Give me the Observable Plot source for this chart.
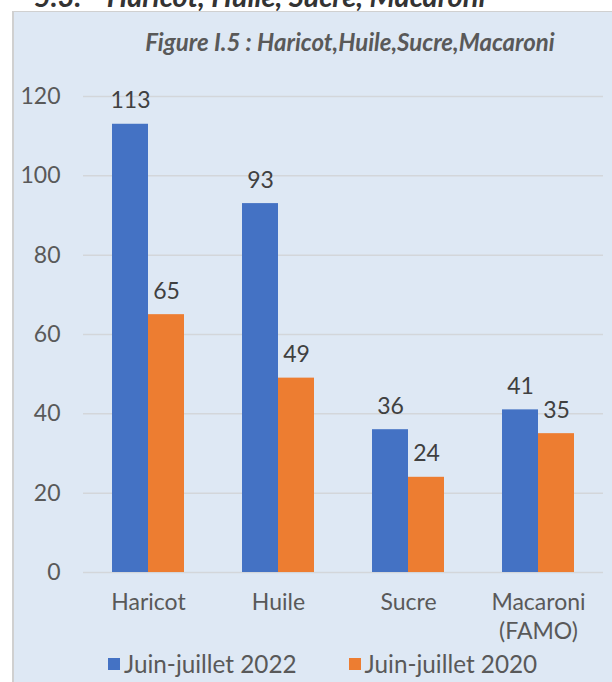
<!DOCTYPE html>
<html><head><meta charset="utf-8">
<script src="https://cdn.jsdelivr.net/npm/d3@7"></script>
<script src="https://cdn.jsdelivr.net/npm/@observablehq/plot@0.6"></script>
<style>
body{margin:0;width:612px;height:682px;overflow:hidden;background:#fff;font-family:Lato,sans-serif;position:relative}
#heading{position:absolute;left:34px;top:-19px;font:bold italic 29px/29px Lato;color:#333;white-space:pre;z-index:0}
#panel{position:absolute;left:12px;top:11px;width:600px;height:671px;background:#dee8f4;border-left:2px solid #d0d0d0;border-top:1px solid #d0d0d0;box-sizing:border-box;z-index:1}
#title{position:absolute;left:40px;width:620px;top:28px;text-align:center;font:bold italic 24px/28px Lato;color:#595959;z-index:2}
#chart{position:absolute;left:0;top:60px;z-index:2}
#legend{position:absolute;left:108px;top:650px;display:flex;align-items:center;font:24.3px/28px Lato;color:#595959;z-index:2}
.item{display:flex;align-items:center;margin-right:52px}
.sw{width:12px;height:12px;margin-right:4px}
</style></head>
<body>
<div id="heading">5.3.    Haricot, Huile, Sucre, Macaroni</div>
<div id="panel"></div>
<div id="title">Figure I.5 : Haricot,Huile,Sucre,Macaroni</div>
<div id="chart"></div>
<div id="legend"></div>
<script>
const categories = ["Haricot", "Huile", "Sucre", "Macaroni (FAMO)"];
const series = ["Juin-juillet 2022", "Juin-juillet 2020"];
const values2022 = [113, 93, 36, 41];
const values2020 = [65, 49, 24, 35];
const colors = ["#4472C4", "#ED7D31"];
const yTicks = [0, 20, 40, 60, 80, 100, 120];

const data = categories.flatMap((c, i) => [
  {category: c, series: series[0], value: values2022[i]},
  {category: c, series: series[1], value: values2020[i]}
]);

const chart = Plot.plot({
  width: 612, height: 590,
  marginLeft: 82, marginRight: 9, marginTop: 36, marginBottom: 78,
  style: {background: "transparent", fontFamily: "Lato", fontSize: "23px", color: "#595959", overflow: "visible"},
  fx: {domain: categories, padding: 0, label: null},
  x: {domain: series, paddingInner: 0, paddingOuter: 0.757, axis: null},
  y: {domain: [0, 120], axis: null},
  color: {domain: series, range: colors},
  marks: [
    Plot.gridY(yTicks, {stroke: "#d3d6da", strokeOpacity: 1, strokeWidth: 1.5}),
    Plot.axisY(yTicks, {tickSize: 0, tickPadding: 23, fontSize: 23, label: null}),
    Plot.axisFx({anchor: "bottom", tickSize: 0, tickPadding: 17, lineHeight: 1.27, fontSize: 23, label: null,
      tickFormat: d => d.replace(" ", "\n")}),
    Plot.barY(data, {fx: "category", x: "series", y: "value", fill: "series"}),
    Plot.text(data, {fx: "category", x: "series", y: "value", text: d => String(d.value),
      dy: -16, lineAnchor: "bottom", fill: "#404040", fontSize: 23})
  ]
});
document.getElementById("chart").appendChild(chart);

const legend = document.getElementById("legend");
series.forEach((s, i) => {
  const item = document.createElement("div");
  item.className = "item";
  const sw = document.createElement("div");
  sw.className = "sw";
  sw.style.background = colors[i];
  const t = document.createElement("span");
  t.textContent = s;
  item.appendChild(sw); item.appendChild(t);
  legend.appendChild(item);
});
</script>
</body></html>
